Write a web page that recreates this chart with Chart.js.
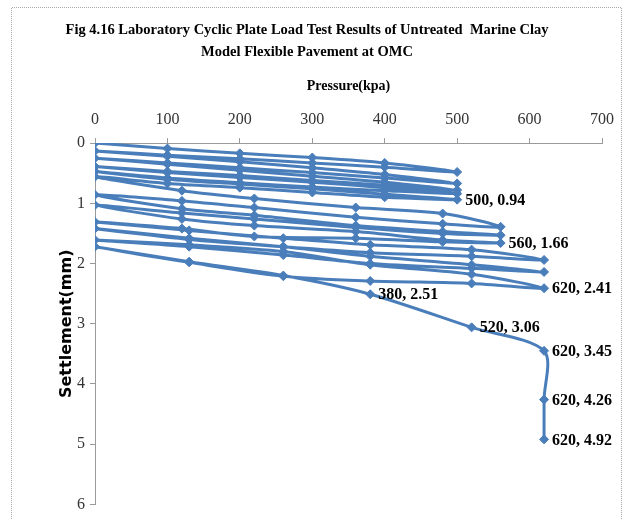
<!DOCTYPE html>
<html>
<head>
<meta charset="utf-8">
<script src="https://cdn.jsdelivr.net/npm/chart.js@4"></script>
<style>
html,body{margin:0;padding:0;background:#fff;}
canvas{display:block;}
</style>
</head>
<body>
<canvas id="c" width="626" height="519"></canvas>
<script>
// Single cyclic loading/unloading series: pressure (kPa) and settlement (mm)
const pressure = [
  0,100,200,300,400,500, 400,300,200,100,0,
  100,200,300,400,500, 400,300,200,100,0,
  100,200,300,400,500, 400,300,200,100,0,
  100,200,300,400,500, 400,300,200,100,0,
  100,200,300,400,500, 400,300,200,100,0,
  120,220,360,480,560, 480,360,220,120,0,
  120,220,360,480,560, 480,360,220,120,0,
  120,220,360,480,560, 480,360,220,120,0,
  130,260,380,520,620, 520,380,260,130,0,
  130,260,380,520,620, 520,380,260,130,0,
  130,260,380,520,620, 520,380,260,130,0,
  130,260,380,520,620,620,620
];
const settlement = [
  0,0.09,0.17,0.24,0.33,0.48, 0.40,0.33,0.26,0.20,0.13,
  0.22,0.31,0.41,0.52,0.67, 0.58,0.49,0.41,0.33,0.25,
  0.35,0.45,0.55,0.65,0.78, 0.70,0.62,0.54,0.47,0.39,
  0.49,0.57,0.65,0.74,0.84, 0.79,0.73,0.66,0.58,0.47,
  0.60,0.68,0.76,0.85,0.94, 0.90,0.82,0.74,0.67,0.56,
  0.79,0.92,1.07,1.17,1.39, 1.34,1.23,1.07,0.96,0.86,
  1.09,1.20,1.37,1.47,1.53, 1.50,1.40,1.26,1.16,1.03,
  1.26,1.37,1.47,1.61,1.66, 1.64,1.58,1.55,1.42,1.31,
  1.45,1.58,1.69,1.77,1.94, 1.88,1.82,1.72,1.60,1.42,
  1.58,1.72,1.88,2.02,2.14, 2.08,2.00,1.86,1.72,1.61,
  1.69,1.80,2.02,2.18,2.41, 2.33,2.29,2.21,1.98,1.72,
  1.97,2.20,2.51,3.06,3.45,4.26,4.92
];
// Points carrying a data label: [pressure, settlement]
const labeledPoints = [
  [500,0.94],[560,1.66],[620,2.41],[380,2.51],[520,3.06],[620,3.45],[620,4.26],[620,4.92]
];
const xTicks = [0,100,200,300,400,500,600,700];
const yTicks = [0,1,2,3,4,5,6];
const titleLines = ['Fig 4.16 Laboratory Cyclic Plate Load Test Results of Untreated  Marine Clay','Model Flexible Pavement at OMC'];
const xTitle = 'Pressure(kpa)';
const yTitle = 'Settlement(mm)';

const points = pressure.map((p,i)=>({x:p,y:settlement[i]}));
const BLUE = '#4a7ebb';
const AXIS = '#9a9a9a';

const framePlugin = {
  id:'frame',
  beforeDraw(chart){
    const ctx = chart.ctx;
    ctx.save();
    ctx.fillStyle = '#fff';
    ctx.fillRect(0,0,chart.width,chart.height);
    ctx.strokeStyle = '#a8a8a8';
    ctx.lineWidth = 1;
    ctx.setLineDash([1,1]);
    ctx.beginPath();
    ctx.moveTo(11.5, chart.height+2);
    ctx.lineTo(11.5, 7.5);
    ctx.lineTo(621.5, 7.5);
    ctx.lineTo(621.5, chart.height+2);
    ctx.stroke();
    ctx.restore();
  }
};

const labelPlugin = {
  id:'pointLabels',
  afterDatasetsDraw(chart){
    const ctx = chart.ctx;
    const meta = chart.getDatasetMeta(0);
    const data = chart.data.datasets[0].data;
    ctx.save();
    ctx.font = 'bold 16px "Liberation Serif", serif';
    ctx.fillStyle = '#000';
    ctx.textAlign = 'left';
    ctx.textBaseline = 'middle';
    labeledPoints.forEach(([px,py])=>{
      let idx = -1;
      for (let i=data.length-1;i>=0;i--){ if (data[i].x===px && data[i].y===py){ idx=i; break; } }
      if (idx<0) return;
      const el = meta.data[idx];
      ctx.fillText(px + ', ' + py.toFixed(2), el.x + 8, el.y + 1);
    });
    ctx.restore();
  }
};

new Chart(document.getElementById('c'), {
  type:'scatter',
  data:{datasets:[{
    data: points,
    showLine:true,
    borderColor:BLUE,
    backgroundColor:BLUE,
    borderWidth:3,
    pointStyle:'rectRot',
    pointRadius:4.5,
    pointBorderWidth:1,
    tension:0.3
  }]},
  options:{
    responsive:false,
    animation:false,
    devicePixelRatio:1,
    layout:{padding:{left:12,right:24,top:8,bottom:8}},
    plugins:{
      legend:{display:false},
      tooltip:{enabled:false},
      title:{
        display:true,
        text:titleLines,
        color:'#000',
        font:{family:'"Liberation Serif", serif', size:14.5, weight:'bold', lineHeight:1.52},
        padding:{top:11,bottom:0}
      }
    },
    scales:{
      x:{
        type:'linear', position:'top', min:0, max:700,
        afterBuildTicks(s){ s.ticks = xTicks.map(v=>({value:v})); },
        afterFit(s){ s.height = 80; },
        ticks:{color:'#333', font:{family:'"Liberation Serif", serif', size:16}, padding:9},
        grid:{drawOnChartArea:false, drawTicks:true, tickLength:5, color:AXIS},
        border:{display:true, color:AXIS, width:1},
        title:{display:true, text:xTitle, color:'#000', font:{family:'"Liberation Serif", serif', size:14, weight:'bold'}, padding:{top:15,bottom:0}}
      },
      y:{
        type:'linear', position:'left', min:0, max:6, reverse:true,
        afterBuildTicks(s){ s.ticks = yTicks.map(v=>({value:v})); },
        afterFit(s){ s.width = 83; },
        ticks:{color:'#333', font:{family:'"Liberation Serif", serif', size:16}, padding:5},
        grid:{drawOnChartArea:false, drawTicks:true, tickLength:5, color:AXIS},
        border:{display:true, color:AXIS, width:1},
        title:{display:true, text:yTitle, color:'#000', font:{family:'"DejaVu Sans", sans-serif', size:16, weight:'bold'}, padding:{top:45,bottom:0}}
      }
    }
  },
  plugins:[framePlugin, labelPlugin]
});
</script>
</body>
</html>
